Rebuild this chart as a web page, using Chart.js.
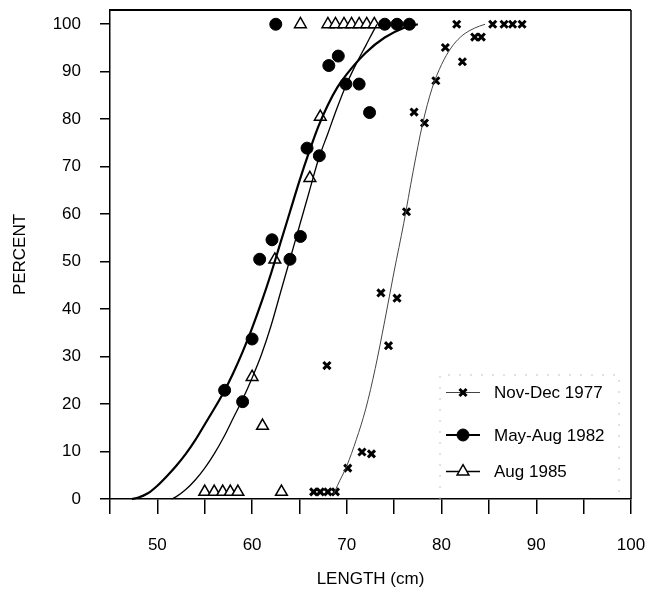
<!DOCTYPE html>
<html>
<head>
<meta charset="utf-8">
<script src="https://cdn.jsdelivr.net/npm/chart.js@4.4.1/dist/chart.umd.min.js"></script>
<style>
  html, body { margin: 0; padding: 0; background: #fff; }
  #wrap { width: 648px; height: 592px; position: relative; }
</style>
</head>
<body>
<div id="wrap"><canvas id="c" width="648" height="592"></canvas></div>
<script>
// ---------- data ----------
const seriesNames = ['Nov-Dec 1977', 'May-Aug 1982', 'Aug 1985'];
const xTickLabels = [50, 60, 70, 80, 90, 100];
const xTickValues = [45, 50, 55, 60, 65, 70, 75, 80, 85, 90, 95, 100];
const yTickValues = [0, 10, 20, 30, 40, 50, 60, 70, 80, 90, 100];

// observed points: Nov-Dec 1977 (crosses)
const nov77Len = [66.5, 67.2, 68.0, 68.8, 67.9, 70.1, 71.6, 72.6, 74.4, 73.6, 75.3, 76.3, 77.1, 78.2, 79.4, 80.4, 81.6, 82.2, 83.5, 84.2, 85.4, 86.6, 87.5, 88.5];
const nov77Pct = [1.5, 1.5, 1.5, 1.5, 28.1, 6.5, 9.9, 9.5, 32.3, 43.4, 42.3, 60.5, 81.5, 79.2, 88.1, 95.1, 100, 92.1, 97.3, 97.3, 100, 100, 100, 100];

// observed points: May-Aug 1982 (filled circles)
const may82Len = [57.1, 59.0, 60.0, 60.8, 62.1, 62.5, 64.0, 65.1, 65.8, 67.1, 68.1, 69.1, 69.9, 71.3, 72.4, 74.0, 75.3, 76.6];
const may82Pct = [22.9, 20.5, 33.7, 50.5, 54.6, 100, 50.5, 55.3, 73.9, 72.3, 91.3, 93.3, 87.4, 87.4, 81.4, 100, 100, 100];

// observed points: Aug 1985 (open triangles)
const aug85Len = [55.0, 56.0, 56.9, 57.7, 58.5, 63.1, 60.0, 61.1, 62.4, 66.1, 67.2, 65.1, 68.0, 68.8, 69.7, 70.5, 71.3, 72.1, 72.9];
const aug85Pct = [1.5, 1.5, 1.5, 1.5, 1.5, 1.5, 25.7, 15.4, 50.4, 67.6, 80.5, 100, 100, 100, 100, 100, 100, 100, 100];

// fitted curves
const fit77Len = [68.6, 69, 70, 71, 72, 73, 74, 75, 76, 77, 78, 79, 80, 81, 82, 83, 84, 84.6];
const fit77Pct = [1, 2.8, 7, 12.5, 19, 27.5, 37.5, 48, 58, 69, 79, 86.5, 91.5, 95, 97.3, 98.7, 99.6, 100];

const fit82Len = [47.3, 48, 49, 50, 51, 52, 53, 54, 55, 56, 57, 58, 59, 60, 61, 62, 63, 64, 65, 66, 67, 68, 69, 70, 72, 74, 76, 77.5];
const fit82Pct = [0, 0.3, 1.2, 2.8, 4.8, 7, 9.5, 12.4, 15.7, 19, 22.5, 26.5, 31, 36, 41.5, 47.5, 54, 60.5, 67, 73, 78.5, 83, 86.7, 89.5, 94, 97.2, 99.2, 100];

const fit85Len = [51.5, 52, 53, 54, 55, 56, 57, 58, 59, 60, 61, 62, 63, 64, 65, 66, 67, 68, 69, 70, 71, 72, 73, 73.2];
const fit85Pct = [0, 0.5, 2, 4, 6.5, 9.5, 13, 17, 21, 25.5, 30.5, 36.5, 43.5, 50.5, 57.5, 64.5, 71.5, 77, 82.5, 87.5, 91.7, 95.5, 99.3, 100];

// ---------- helpers ----------
const pts = (xs, ys) => xs.map((x, i) => ({ x: x, y: ys[i] }));
const FONT = "'Liberation Sans', Arial, Helvetica, sans-serif";

const styles = [
  { pointStyle: 'crossRot', radius: 5, borderWidth: 3, bg: '#000', line: '#444', lineWidth: 1 },
  { pointStyle: 'circle', radius: 6, borderWidth: 1, bg: '#000', line: '#000', lineWidth: 2.2 },
  { pointStyle: 'triangle', radius: 6.8, borderWidth: 1.5, bg: '#fff', line: '#000', lineWidth: 1.3 }
];

const curveSet = (xs, ys, st) => ({
  type: 'line',
  data: pts(xs, ys),
  showLine: true,
  borderColor: st.line,
  borderWidth: st.lineWidth,
  pointRadius: 0,
  fill: false,
  tension: 0.4,
  cubicInterpolationMode: 'monotone',
  clip: false
});
const markSet = (xs, ys, st) => ({
  type: 'scatter',
  data: pts(xs, ys),
  showLine: false,
  pointStyle: st.pointStyle,
  pointRadius: st.radius,
  pointHoverRadius: st.radius,
  pointBorderWidth: st.borderWidth,
  pointBorderColor: '#000',
  pointBackgroundColor: st.bg,
  clip: false
});

// frame (top and right edges) + in-plot legend
const framePlugin = {
  id: 'frameAndLegend',
  afterDraw(chart) {
    const ctx = chart.ctx, a = chart.chartArea;
    ctx.save();
    ctx.strokeStyle = '#000';
    ctx.lineWidth = 2;
    ctx.beginPath();
    ctx.moveTo(a.left, a.top); ctx.lineTo(a.right, a.top);
    ctx.stroke();
    ctx.lineWidth = 1.5;
    ctx.beginPath();
    ctx.moveTo(a.right, a.top); ctx.lineTo(a.right, a.bottom);
    ctx.stroke();

    // faint dashed legend box
    ctx.strokeStyle = '#c4c4c4';
    ctx.lineWidth = 1;
    ctx.setLineDash([2, 9]);
    ctx.beginPath();
    ctx.moveTo(440, a.bottom); ctx.lineTo(440, 375); ctx.lineTo(619, 375); ctx.lineTo(619, a.bottom);
    ctx.stroke();
    ctx.setLineDash([]);

    const rows = [392.5, 435, 471.5];
    ctx.font = '17px ' + FONT;
    ctx.fillStyle = '#000';
    ctx.textBaseline = 'middle';
    ctx.textAlign = 'left';
    seriesNames.forEach((name, i) => {
      const st = styles[i];
      const y = rows[i];
      ctx.strokeStyle = st.line;
      ctx.lineWidth = st.lineWidth;
      ctx.beginPath();
      ctx.moveTo(446, y); ctx.lineTo(480, y);
      ctx.stroke();
      ctx.strokeStyle = '#000';
      ctx.fillStyle = st.bg;
      ctx.lineWidth = st.borderWidth;
      Chart.helpers.drawPoint(ctx, { pointStyle: st.pointStyle, radius: st.radius, rotation: 0, borderWidth: st.borderWidth }, 463, y);
      ctx.fillStyle = '#000';
      ctx.fillText(name, 494, y + 1);
    });
    ctx.restore();
  }
};

const ctx = document.getElementById('c').getContext('2d');
new Chart(ctx, {
  type: 'scatter',
  data: {
    datasets: [
      curveSet(fit77Len, fit77Pct, styles[0]),
      curveSet(fit82Len, fit82Pct, styles[1]),
      curveSet(fit85Len, fit85Pct, styles[2]),
      markSet(nov77Len, nov77Pct, styles[0]),
      markSet(may82Len, may82Pct, styles[1]),
      markSet(aug85Len, aug85Pct, styles[2])
    ]
  },
  options: {
    responsive: false,
    animation: false,
    devicePixelRatio: 1,
    layout: { padding: { top: 10, right: 17, left: 0, bottom: 0 } },
    plugins: { legend: { display: false }, tooltip: { enabled: false } },
    scales: {
      x: {
        type: 'linear',
        min: 45, max: 100,
        afterFit(s) { s.height = 93; s.paddingLeft = 0; s.paddingRight = 0; },
        afterBuildTicks(s) { s.ticks = xTickValues.map(v => ({ value: v })); },
        border: { display: true, color: '#000', width: 1.5 },
        grid: { display: true, drawOnChartArea: false, drawTicks: true, tickLength: 15, color: '#000', lineWidth: 1.5 },
        ticks: {
          autoSkip: false, maxRotation: 0, padding: 21, color: '#000',
          font: { family: FONT, size: 17 },
          callback: v => (xTickLabels.includes(v) ? String(v) : '')
        },
        title: { display: true, text: 'LENGTH (cm)', color: '#000', font: { family: FONT, size: 17 }, padding: { top: 0, bottom: 2 } }
      },
      y: {
        type: 'linear',
        min: 0, max: 103,
        afterFit(s) { s.width = 110; s.paddingTop = 0; s.paddingBottom = 0; },
        afterBuildTicks(s) { s.ticks = yTickValues.map(v => ({ value: v })); },
        border: { display: true, color: '#000', width: 1.5 },
        grid: { display: true, drawOnChartArea: false, drawTicks: true, tickLength: 10, color: '#000', lineWidth: 1.5 },
        ticks: { autoSkip: false, padding: 19, color: '#000', font: { family: FONT, size: 17 } },
        title: { display: true, text: 'PERCENT', color: '#000', font: { family: FONT, size: 17 }, padding: { top: 10, bottom: 10 } }
      }
    }
  },
  plugins: [framePlugin]
});
</script>
</body>
</html>
